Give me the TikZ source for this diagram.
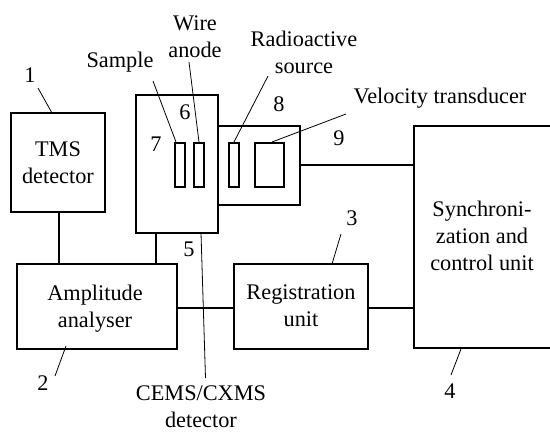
\documentclass[tikz,border=0pt]{standalone}
\usepackage{fontspec}
\setmainfont{Liberation Serif}
\tikzset{
  blockbox/.style={draw=black,line width=2pt,fill=white},
  wirelink/.style={draw=black,line width=2.2pt},
  leader/.style={draw=black,line width=0.8pt},
  lab/.style={font=\fontsize{22.3}{27}\selectfont,align=center,inner sep=0pt},
}
\begin{document}
\begin{tikzpicture}[x=1pt,y=-1pt]
\useasboundingbox (0,0) rectangle (550,432);
% blocks
\coordinate (tmsA) at (11,113); \coordinate (tmsB) at (105,212);
\coordinate (ampA) at (17,264); \coordinate (ampB) at (177,349);
\coordinate (cemA) at (135.5,95); \coordinate (cemB) at (218,233);
\coordinate (srcA) at (217.5,125.5); \coordinate (srcB) at (300,205);
\coordinate (regA) at (234,264); \coordinate (regB) at (368,349);
\coordinate (synA) at (414,125.5); \coordinate (synB) at (552,348);
\coordinate (cemLink) at (156,233); \coordinate (cemLinkB) at (156,264);
\coordinate (tmsLink) at (59,212); \coordinate (tmsLinkB) at (59,264);
\coordinate (vLink) at (299,165); \coordinate (vLinkB) at (414,165);
\coordinate (aLink) at (176,308); \coordinate (aLinkB) at (234,308);
\coordinate (rLink) at (368,308); \coordinate (rLinkB) at (414,308);
\draw[wirelink] (tmsLink) -- (tmsLinkB);
\draw[wirelink] (cemLink) -- (cemLinkB);
\draw[wirelink] (vLink) -- (vLinkB);
\draw[wirelink] (aLink) -- (aLinkB);
\draw[wirelink] (rLink) -- (rLinkB);
\draw[blockbox] (tmsA) rectangle (tmsB);
\draw[blockbox] (ampA) rectangle (ampB);
\draw[blockbox] (cemA) rectangle (cemB);
\draw[blockbox] (srcA) rectangle (srcB);
\draw[blockbox] (regA) rectangle (regB);
\draw[blockbox] (synA) rectangle (synB);
\draw[blockbox] (174.5,142.5) rectangle (184.5,187);
\draw[blockbox] (193.5,142.5) rectangle (203.5,187);
\draw[blockbox] (229,142.5) rectangle (238.5,187);
\draw[blockbox] (254.5,142.5) rectangle (283.5,187);
% leaders
\draw[leader] (38,88) -- (52,113);
\draw[leader] (153,81) -- (176,142);
\draw[leader] (189,62) -- (199,142);
\draw[leader] (268,76) -- (234,142);
\draw[leader] (346,114) -- (272,142);
\draw[leader] (201,233) -- (205.5,378);
\draw[leader] (341,234) -- (332,264);
\draw[leader] (66,346) -- (55,376);
\draw[leader] (461,349) -- (451,375);
% labels
\node[lab] (tTms) at (58,163) {TMS\\detector};
\node[lab] (tAmp) at (95,309) {Amplitude\\analyser};
\node[lab] (tReg) at (301,306) {Registration\\unit};
\node[lab] (tSyn) at (482,236) {Synchroni-\\zation and\\control unit};
\node[lab] (tWire) at (195,37) {Wire\\anode};
\node[lab] (tSam) at (120,62) {Sample};
\node[lab] (tRad) at (304,52) {Radioactive\\source};
\node[lab] (tVel) at (440,98) {Velocity transducer};
\node[lab] (tCem) at (201,407) {CEMS/CXMS\\detector};
\node[lab] (n1) at (30,75) {1};
\node[lab] (n2) at (43,383) {2};
\node[lab] (n3) at (352,218) {3};
\node[lab] (n4) at (450,391) {4};
\node[lab] (n5) at (189,249) {5};
\node[lab] (n6) at (185,112) {6};
\node[lab] (n7) at (156,144) {7};
\node[lab] (n8) at (279,104) {8};
\node[lab] (n9) at (339,138) {9};
\end{tikzpicture}
\end{document}
